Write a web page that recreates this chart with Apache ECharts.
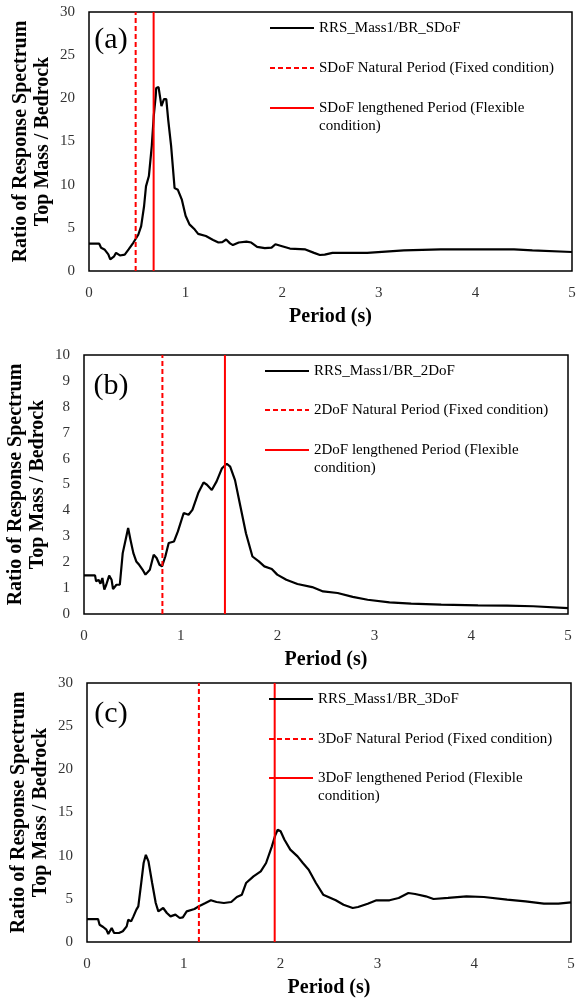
<!DOCTYPE html>
<html>
<head>
    <meta charset="UTF-8">
    <title>Ratio of Response Spectrum</title>
    <script src="https://cdn.jsdelivr.net/npm/echarts@6/dist/echarts.min.js"></script>
</head>
<body style="margin:0;background:#fff;">
    <div id="main" style="width: 576px;height:1001px;"></div>
    <script type="text/javascript">
        // panel (a) SDoF
        var periodA = [0, 0.106, 0.125, 0.16, 0.2, 0.22, 0.26, 0.28, 0.32, 0.37, 0.41, 0.46, 0.51, 0.54, 0.57, 0.59, 0.62, 0.65, 0.67, 0.69, 0.696, 0.72, 0.737, 0.75, 0.776, 0.8, 0.82, 0.85, 0.886, 0.92, 0.96, 1.0, 1.04, 1.095, 1.13, 1.21, 1.285, 1.34, 1.38, 1.42, 1.46, 1.49, 1.55, 1.63, 1.68, 1.74, 1.82, 1.89, 1.93, 1.99, 2.08, 2.24, 2.33, 2.39, 2.44, 2.52, 2.69, 2.88, 3.07, 3.26, 3.64, 4.02, 4.4, 4.59, 5];
        var ratioA = [3.16, 3.16, 2.7, 2.5, 1.93, 1.35, 1.7, 2.1, 1.8, 1.9, 2.5, 3.3, 4.2, 5.2, 7.5, 9.8, 11, 14.5, 17.9, 20.2, 21.2, 21.3, 21.5, 19.1, 19.9, 19.9, 17.5, 14.5, 9.6, 9.4, 8.3, 6.4, 5.4, 4.8, 4.3, 4.05, 3.6, 3.3, 3.35, 3.65, 3.2, 3.0, 3.3, 3.4, 3.3, 2.8, 2.65, 2.7, 3.1, 2.9, 2.6, 2.5, 2.1, 1.85, 1.9, 2.1, 2.1, 2.1, 2.25, 2.4, 2.5, 2.5, 2.5, 2.4, 2.2];

        // panel (b) 2DoF
        var periodB = [0, 0.114, 0.125, 0.15, 0.17, 0.19, 0.21, 0.23, 0.26, 0.285, 0.30, 0.335, 0.37, 0.40, 0.43, 0.456, 0.48, 0.51, 0.54, 0.57, 0.61, 0.635, 0.68, 0.72, 0.75, 0.78, 0.806, 0.84, 0.875, 0.93, 0.97, 1.03, 1.08, 1.12, 1.18, 1.235, 1.27, 1.32, 1.37, 1.426, 1.475, 1.51, 1.56, 1.616, 1.673, 1.74, 1.806, 1.863, 1.94, 1.996, 2.09, 2.205, 2.357, 2.47, 2.62, 2.776, 2.93, 3.156, 3.38, 3.69, 4.07, 4.37, 4.64, 5];
        var ratioB = [1.49, 1.49, 1.26, 1.32, 1.17, 1.39, 0.94, 1.13, 1.48, 1.32, 0.96, 1.13, 1.13, 2.35, 2.87, 3.32, 2.87, 2.35, 2.03, 1.9, 1.68, 1.52, 1.71, 2.29, 2.16, 1.9, 1.84, 2.22, 2.74, 2.8, 3.19, 3.9, 3.83, 4.02, 4.67, 5.08, 4.99, 4.79, 5.12, 5.63, 5.8, 5.69, 5.17, 4.15, 3.12, 2.22, 2.03, 1.84, 1.74, 1.52, 1.32, 1.16, 1.04, 0.87, 0.81, 0.66, 0.55, 0.45, 0.4, 0.36, 0.33, 0.32, 0.3, 0.23];

        // panel (c) 3DoF
        var periodC = [0, 0.114, 0.13, 0.167, 0.2, 0.22, 0.255, 0.28, 0.33, 0.37, 0.41, 0.426, 0.456, 0.48, 0.51, 0.53, 0.56, 0.585, 0.608, 0.635, 0.673, 0.71, 0.737, 0.787, 0.825, 0.863, 0.913, 0.958, 0.99, 1.03, 1.11, 1.167, 1.224, 1.28, 1.338, 1.414, 1.49, 1.548, 1.6, 1.643, 1.72, 1.795, 1.85, 1.91, 1.947, 1.97, 2.0, 2.04, 2.1, 2.175, 2.23, 2.29, 2.365, 2.44, 2.517, 2.57, 2.65, 2.745, 2.8, 2.9, 2.99, 3.125, 3.22, 3.32, 3.39, 3.41, 3.5, 3.58, 3.73, 3.92, 4.1, 4.34, 4.53, 4.72, 4.87, 5];
        var ratioC = [2.66, 2.66, 2.0, 1.74, 1.43, 0.93, 1.62, 1.04, 1.04, 1.24, 1.81, 2.59, 2.39, 2.97, 3.75, 4.13, 6.83, 9.15, 10.1, 9.34, 6.83, 4.52, 3.55, 3.94, 3.36, 2.97, 3.17, 2.78, 2.86, 3.55, 3.82, 4.21, 4.52, 4.83, 4.63, 4.52, 4.63, 5.21, 5.48, 6.83, 7.6, 8.18, 9.15, 11.08, 12.43, 13.0, 12.82, 11.85, 10.7, 9.92, 9.15, 8.38, 6.83, 5.48, 5.1, 4.83, 4.32, 3.94, 4.05, 4.44, 4.83, 4.83, 5.1, 5.68, 5.56, 5.75, 5.29, 4.98, 5.1, 5.29, 5.21, 4.9, 4.71, 4.44, 4.44, 4.6];

        var naturalPeriods = [0.483, 0.81, 1.156];
        var lengthenedPeriods = [0.669, 1.456, 1.939];
        var yMax = [30, 10, 30];
        var yStep = [5, 1, 5];
        var dofNames = ['SDoF', '2DoF', '3DoF'];
        var panelLabels = ['(a)', '(b)', '(c)'];

        var periods = [periodA, periodB, periodC];
        var ratios = [ratioA, ratioB, ratioC];

        var serif = 'Liberation Serif';
        var grids = [
            { left: 89, top: 12, width: 483, height: 259 },
            { left: 84, top: 355, width: 484, height: 259 },
            { left: 87, top: 683, width: 484, height: 259 }
        ];
        // legend text x and row centres for each panel
        var legendX = [318, 313, 317];
        var legendRows = [[27, 67, 107], [370, 409, 449], [698, 738, 777]];
        var labelPos = [[111, 40], [111, 386], [111, 714]];

        var myChart = echarts.init(document.getElementById('main'));

        var option = {
            backgroundColor: '#fff',
            animation: false,
            grid: [], xAxis: [], yAxis: [], series: [], legend: [], graphic: []
        };

        function pairs(xs, ys) {
            return xs.map(function (x, i) { return [x, ys[i]]; });
        }

        // one legend per entry so each row can be placed exactly;
        // a leading blank line keeps the first text line level with the icon
        function oneLegend(name, left, top, twoLines) {
            var lg = {
                left: left, top: top, padding: 0,
                orient: 'vertical',
                itemWidth: 44, itemHeight: 10,
                data: [name],
                selectedMode: false,
                itemStyle: { opacity: 0 },
                textStyle: { fontFamily: serif, fontSize: 15, color: '#000', lineHeight: 18 }
            };
            if (twoLines) {
                lg.formatter = function (n) { return '\n' + n; };
            }
            return lg;
        }

        for (var i = 0; i < 3; i++) {
            var g = grids[i];
            option.grid.push({
                left: g.left, top: g.top, width: g.width, height: g.height,
                show: true, borderColor: '#000', borderWidth: 1.5,
                containLabel: false, outerBoundsMode: 'none'
            });
            option.xAxis.push({
                type: 'value', gridIndex: i, min: 0, max: 5, interval: 1,
                name: 'Period (s)', nameLocation: 'middle', nameGap: 36,
                nameTextStyle: { fontFamily: serif, fontSize: 20, fontWeight: 'bold', color: '#000', lineHeight: 20 },
                axisLine: { show: false }, axisTick: { show: false }, splitLine: { show: false },
                axisLabel: { fontFamily: serif, fontSize: 15, color: '#333', margin: 15, lineHeight: 15 }
            });
            option.yAxis.push({
                type: 'value', gridIndex: i, min: 0, max: yMax[i], interval: yStep[i],
                name: 'Ratio of Response Spectrum\nTop Mass / Bedrock', nameLocation: 'middle',
                nameGap: 35, nameMoveOverlap: false,
                nameTextStyle: { fontFamily: serif, fontSize: 20, fontWeight: 'bold', color: '#000', lineHeight: 22 },
                axisLine: { show: false }, axisTick: { show: false }, splitLine: { show: false },
                axisLabel: { fontFamily: serif, fontSize: 15, color: '#333', margin: 14 }
            });

            var curveName = 'RRS_Mass1/BR_' + dofNames[i];
            var natName = dofNames[i] + ' Natural Period (Fixed condition)';
            var lenName = dofNames[i] + ' lengthened Period (Flexible\ncondition)';

            option.series.push({
                name: curveName, type: 'line', xAxisIndex: i, yAxisIndex: i,
                data: pairs(periods[i], ratios[i]), symbol: 'none',
                lineStyle: { color: '#000', width: 2.2 }, itemStyle: { color: '#000' }
            });
            option.series.push({
                name: natName, type: 'line', xAxisIndex: i, yAxisIndex: i,
                data: [[naturalPeriods[i], 0], [naturalPeriods[i], yMax[i]]], symbol: 'none',
                lineStyle: { color: '#ff0000', width: 2, type: [5, 3] }, itemStyle: { color: '#ff0000' }
            });
            option.series.push({
                name: lenName, type: 'line', xAxisIndex: i, yAxisIndex: i,
                data: [[lengthenedPeriods[i], 0], [lengthenedPeriods[i], yMax[i]]], symbol: 'none',
                lineStyle: { color: '#ff0000', width: 2 }, itemStyle: { color: '#ff0000' }
            });

            var lx = legendX[i] - 49;
            var rows = legendRows[i];
            option.legend.push(oneLegend(curveName, lx, rows[0] - 8));
            option.legend.push(oneLegend(natName, lx, rows[1] - 8));
            option.legend.push(oneLegend(lenName, lx, rows[2] - 26, true));

            option.graphic.push({
                type: 'text', x: labelPos[i][0], y: labelPos[i][1],
                style: { text: panelLabels[i], fontFamily: serif, fontSize: 30, fill: '#000', align: 'center', verticalAlign: 'middle' }
            });
        }

        myChart.setOption(option);
    </script>
</body>
</html>
